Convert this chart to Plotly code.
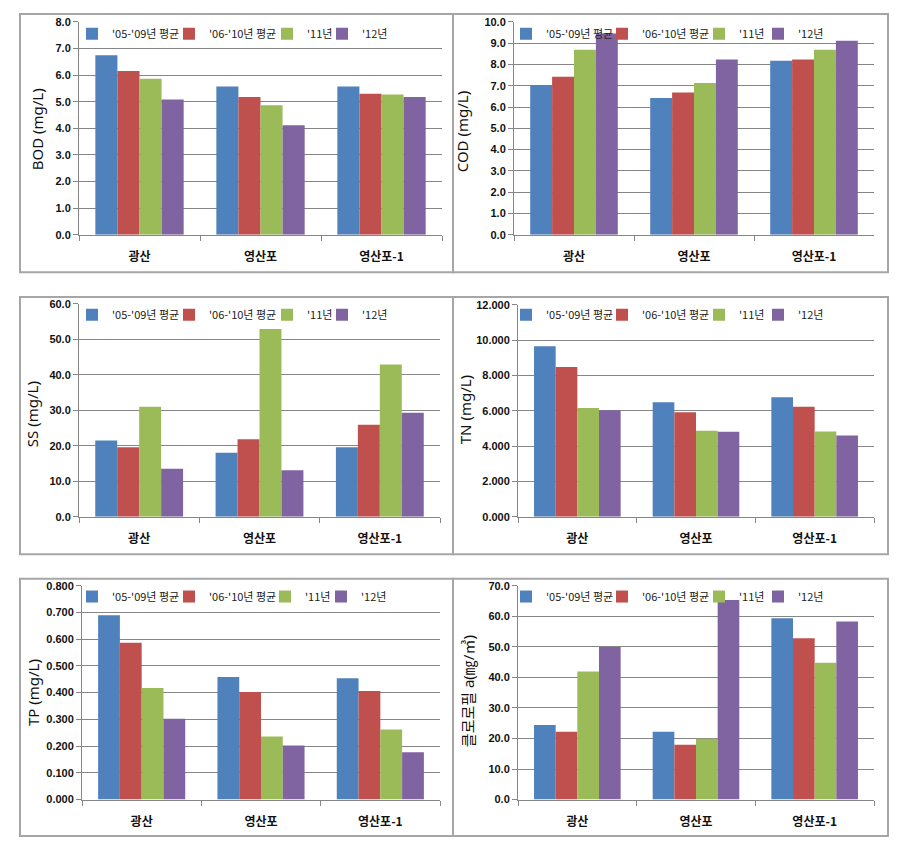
import plotly.graph_objects as go

# ---------------- data ----------------
categories = ["광산", "영산포", "영산포-1"]
series_names = ["'05-'09년 평균", "'06-'10년 평균", "'11년", "'12년"]

bod_0509 = [6.75, 5.57, 5.57]
bod_0610 = [6.15, 5.18, 5.30]
bod_11 = [5.86, 4.87, 5.27]
bod_12 = [5.08, 4.12, 5.18]

cod_0509 = [7.03, 6.43, 8.18]
cod_0610 = [7.42, 6.68, 8.23]
cod_11 = [8.69, 7.13, 8.69]
cod_12 = [9.45, 8.23, 9.12]

ss_0509 = [21.5, 18.0, 19.6]
ss_0610 = [19.6, 21.8, 25.9]
ss_11 = [31.0, 52.9, 42.9]
ss_12 = [13.5, 13.1, 29.3]

tn_0509 = [9.65, 6.48, 6.76]
tn_0610 = [8.47, 5.92, 6.22]
tn_11 = [6.15, 4.86, 4.82]
tn_12 = [6.03, 4.81, 4.60]

tp_0509 = [0.689, 0.458, 0.454]
tp_0610 = [0.587, 0.402, 0.406]
tp_11 = [0.417, 0.236, 0.262]
tp_12 = [0.302, 0.202, 0.177]

chl_0509 = [24.4, 22.2, 59.3]
chl_0610 = [22.2, 17.9, 52.8]
chl_11 = [41.9, 19.9, 44.8]
chl_12 = [49.9, 65.3, 58.3]

y_titles = ["BOD (mg/L)", "COD (mg/L)", "SS (mg/L)", "TN (mg/L)", "TP (mg/L)", "클로로필 a(㎎/㎥)"]
y_max = [8.0, 10.0, 60.0, 12.0, 0.8, 70.0]
y_dtick = [1.0, 1.0, 10.0, 2.0, 0.1, 10.0]
y_format = [".1f", ".1f", ".1f", ".3f", ".3f", ".1f"]

panels = [
    [bod_0509, bod_0610, bod_11, bod_12],
    [cod_0509, cod_0610, cod_11, cod_12],
    [ss_0509, ss_0610, ss_11, ss_12],
    [tn_0509, tn_0610, tn_11, tn_12],
    [tp_0509, tp_0610, tp_11, tp_12],
    [chl_0509, chl_0610, chl_11, chl_12],
]

colors = ["#4F81BD", "#C0504D", "#9BBB59", "#8064A2"]

# ---------------- layout geometry (page pixels) ----------------
PAGE_OFF = 8                      # default body margin of the html page
W, H = 902 - 2 * PAGE_OFF, 853 - 2 * PAGE_OFF
plot_px = [
    (79, 442, 16, 232),
    (514, 874, 16, 232),
    (79, 440, 302, 518),
    (518, 874, 303, 518),
    (82, 440, 588, 805),
    (518, 874, 588, 805),
]
box_px = [
    (20, 453, 8, 270), (453, 888, 8, 270),
    (20, 453, 295, 556), (453, 888, 295, 556),
    (20, 453, 581, 842), (453, 888, 581, 842),
]
ytitle_px = [(37, 125), (462, 128), (32, 414), (465, 410), (33, 697), (468, 695)]
# legend text start x for each entry and row centre y, per panel
legend_px = [
    ([112, 209, 307, 362], 28),
    ([546, 642, 739, 798], 28),
    ([112, 209, 307, 362], 313),
    ([546, 642, 739, 798], 313),
    ([112, 209, 305, 361], 599),
    ([546, 642, 739, 798], 599),
]
LEGEND_TEXT_OFF = 40              # legend x -> text start

def px_x(x):
    return (x - PAGE_OFF) / W

def px_y(y):
    return 1 - (y - PAGE_OFF) / H

FONT = "Noto Sans, Noto Sans CJK KR, sans-serif"
KFONT = "Noto Sans CJK KR, Noto Sans, sans-serif"
NUMFONT = "Liberation Sans, Arial, sans-serif"

fig = go.Figure()
layout = dict(
    width=W, height=H, autosize=False,
    margin=dict(l=0, r=0, t=0, b=0),
    paper_bgcolor="white", plot_bgcolor="white",
    barmode="group", bargap=0.27, bargroupgap=0.0,
    showlegend=True,
    shapes=[], annotations=[],
)

for i, series in enumerate(panels):
    n = i + 1
    xa = "x" if n == 1 else f"x{n}"
    ya = "y" if n == 1 else f"y{n}"
    lx_list, ly = legend_px[i]
    for s, (name, vals) in enumerate(zip(series_names, series)):
        k = i * 4 + s + 1
        lg = "legend" if k == 1 else f"legend{k}"
        fig.add_trace(go.Bar(
            x=categories, y=vals, name=name,
            marker=dict(color=colors[s], line=dict(width=0)),
            xaxis=xa, yaxis=ya, legend=lg, showlegend=True,
            hoverinfo="x+y+name",
        ))
        layout[lg] = dict(
            orientation="h", x=px_x(lx_list[s] - LEGEND_TEXT_OFF), y=px_y(ly),
            xanchor="left", yanchor="middle",
            bgcolor="rgba(0,0,0,0)", borderwidth=0,
            font=dict(family=KFONT, size=11, color="#222222"),
            itemwidth=30, visible=True,
            itemclick=False, itemdoubleclick=False,
        )
    x0, x1, yt, yb = plot_px[i]
    layout["xaxis" if n == 1 else f"xaxis{n}"] = dict(
        domain=[px_x(x0), px_x(x1)], anchor=ya,
        showline=True, linecolor="#868686", linewidth=1,
        ticks="outside", tickson="boundaries", ticklen=5, tickcolor="#868686",
        showgrid=False, ticklabelstandoff=11,
        tickfont=dict(family=KFONT, size=12, color="#111111", weight="bold"),
        fixedrange=True,
    )
    layout["yaxis" if n == 1 else f"yaxis{n}"] = dict(
        domain=[px_y(yb), px_y(yt)], anchor=xa,
        range=[0, y_max[i]], dtick=y_dtick[i], tick0=0,
        tickformat=y_format[i],
        showline=True, linecolor="#868686", linewidth=1,
        ticks="outside", ticklen=5, tickcolor="#868686",
        showgrid=True, gridcolor="#868686", gridwidth=1,
        zeroline=False,
        tickfont=dict(family=NUMFONT, size=11, color="#111111", weight="bold"),
        fixedrange=True,
    )
    bx0, bx1, by0, by1 = box_px[i]
    layout["shapes"].append(dict(
        type="rect", xref="paper", yref="paper",
        x0=px_x(bx0), x1=px_x(bx1), y0=px_y(by1), y1=px_y(by0),
        line=dict(color="#A6A6A6", width=2), fillcolor="rgba(0,0,0,0)", layer="below",
    ))
    tx, ty = ytitle_px[i]
    layout["annotations"].append(dict(
        text=y_titles[i], xref="paper", yref="paper",
        x=px_x(tx), y=px_y(ty), xanchor="center", yanchor="middle",
        textangle=-90, showarrow=False,
        font=dict(family=FONT, size=15, color="#111111"),
    ))

fig.update_layout(**layout)
fig.write_html("out.html")
